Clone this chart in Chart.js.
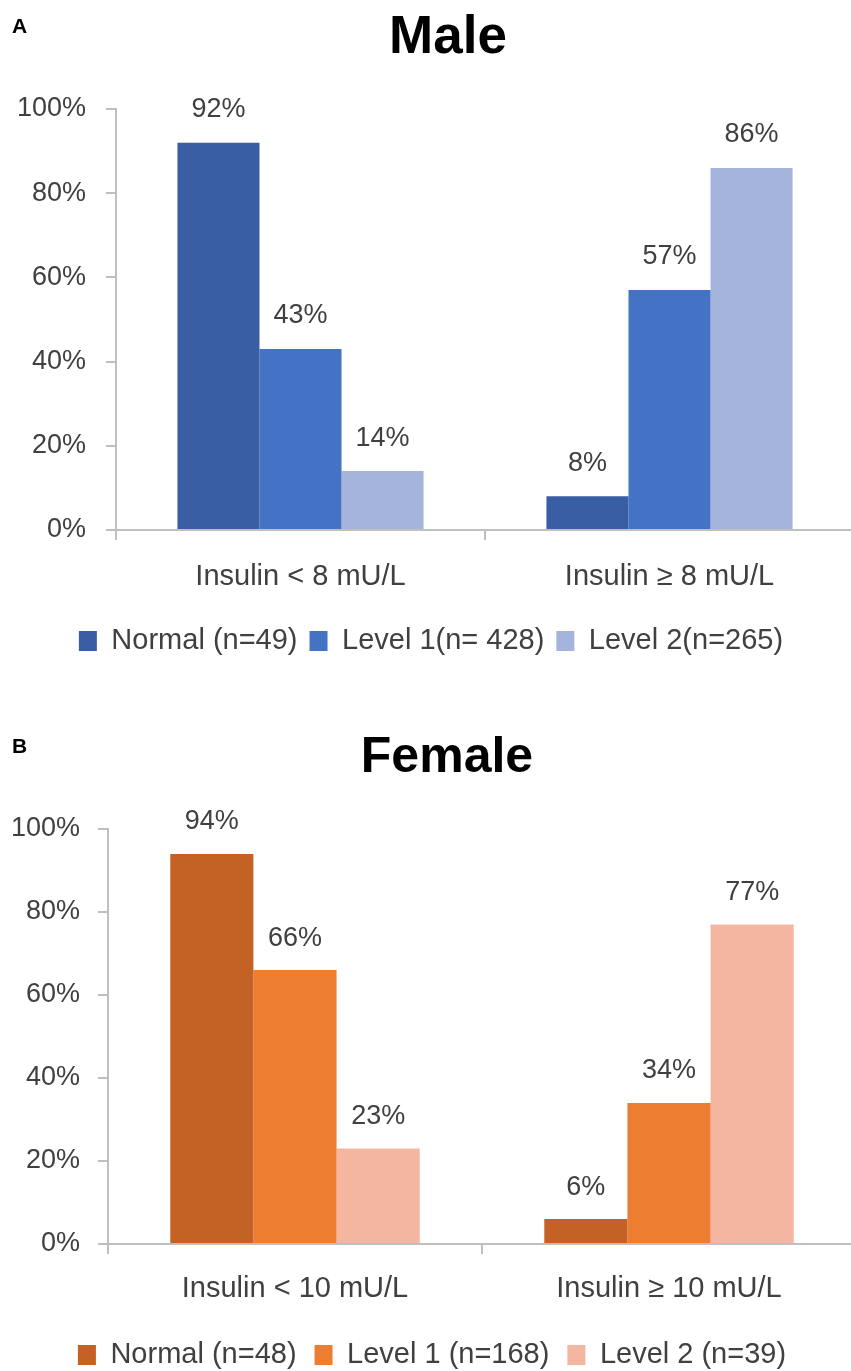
<!DOCTYPE html>
<html>
<head>
<meta charset="utf-8">
<script src="https://cdn.jsdelivr.net/npm/chart.js@4.4.1/dist/chart.umd.min.js"></script>
<style>
html,body{margin:0;padding:0;background:#fff;overflow:hidden;width:851px;height:1371px;position:relative;}
.panel{position:absolute;left:0;}
.panel canvas{display:block;}
.tag{position:absolute;font:bold 21px "Liberation Sans",Arial,sans-serif;color:#000;line-height:1;}
.title{position:absolute;font-family:"Liberation Sans",Arial,sans-serif;font-weight:bold;color:#000;line-height:1;text-align:center;white-space:nowrap;}
</style>
</head>
<body>
<div class="panel" style="top:0px"><canvas id="male" width="854" height="685"></canvas></div>
<div class="panel" style="top:685px"><canvas id="female" width="856" height="730"></canvas></div>
<div class="tag" style="left:12px;top:15px">A</div>
<div class="title" id="maleTitle" style="left:248px;width:400px;top:8px;font-size:53px;"></div>
<div class="tag" style="left:12px;top:735px">B</div>
<div class="title" id="femaleTitle" style="left:247px;width:400px;top:730px;font-size:50px;"></div>
<script>
// ---- data ----
const maleTitle = 'Male';
const maleCategories = ['Insulin < 8 mU/L', 'Insulin \u2265 8 mU/L'];
const maleSeriesNames = ['Normal (n=49)', 'Level 1(n= 428)', 'Level 2(n=265)'];
const maleNormal = [92, 8];
const maleLevel1 = [43, 57];
const maleLevel2 = [14, 86];

const femaleTitle = 'Female';
const femaleCategories = ['Insulin < 10 mU/L', 'Insulin \u2265 10 mU/L'];
const femaleSeriesNames = ['Normal (n=48)', 'Level 1 (n=168)', 'Level 2 (n=39)'];
const femaleNormal = [94, 6];
const femaleLevel1 = [66, 34];
const femaleLevel2 = [23, 77];

const yTickStep = 20;
const yMax = 100;

// ---- styling ----
const FONT = '"Liberation Sans", Arial, sans-serif';
Chart.defaults.font.family = FONT;
const TEXT = '#404040';
const AXIS = '#bfbfbf';
const maleColors = ['#3A5EA3', '#4472C4', '#A5B4DA'];
const femaleColors = ['#C46226', '#ED7D31', '#F4B6A0'];

document.getElementById('maleTitle').textContent = maleTitle;
document.getElementById('femaleTitle').textContent = femaleTitle;

const valueLabels = {
  id: 'valueLabels',
  afterDatasetsDraw(chart, args, opts) {
    const ctx = chart.ctx;
    ctx.save();
    ctx.font = opts.size + 'px ' + FONT;
    ctx.fillStyle = opts.color;
    ctx.textAlign = 'center';
    ctx.textBaseline = 'middle';
    chart.data.datasets.forEach((ds, i) => {
      const meta = chart.getDatasetMeta(i);
      meta.data.forEach((bar, j) => {
        ctx.fillText(ds.data[j] + '%', bar.x, bar.y - opts.offset);
      });
    });
    ctx.restore();
  }
};

function build(id, cfg) {
  const datasets = cfg.series.map((vals, i) => ({
    label: cfg.names[i],
    data: vals,
    backgroundColor: cfg.colors[i],
    borderWidth: 0,
    categoryPercentage: 0.667,
    barPercentage: 1.0
  }));
  return new Chart(document.getElementById(id), {
    type: 'bar',
    data: { labels: cfg.categories, datasets },
    plugins: [valueLabels],
    options: {
      responsive: false,
      animation: false,
      events: [],
      layout: { padding: { left: cfg.padLeft, right: 0, top: cfg.padTop, bottom: cfg.padBottom } },
      plugins: {
        title: { display: false },
        legend: {
          position: 'bottom',
          labels: {
            boxWidth: 18, boxHeight: 20, color: TEXT, padding: cfg.legendPad,
            font: { family: FONT, size: 29 }
          }
        },
        tooltip: { enabled: false },
        valueLabels: { offset: cfg.labelOffset, size: 27, color: TEXT }
      },
      scales: {
        x: {
          grid: { display: true, drawOnChartArea: false, drawTicks: true, tickLength: 10, color: AXIS, lineWidth: 2 },
          border: { color: AXIS, width: 2 },
          ticks: { color: TEXT, font: { family: FONT, size: 29 }, padding: cfg.xPad, maxRotation: 0 },
          afterFit(s) { s.height = cfg.xHeight; }
        },
        y: {
          min: 0, max: yMax,
          grid: { display: true, drawOnChartArea: false, drawTicks: true, tickLength: 10, color: AXIS, lineWidth: 2 },
          border: { color: AXIS, width: 2 },
          ticks: { stepSize: yTickStep, color: TEXT, font: { family: FONT, size: 27 }, padding: cfg.yPad,
                   callback: v => v + '%' },
          afterFit(s) { s.width = cfg.yWidth; }
        }
      }
    }
  });
}

build('male', {
  categories: maleCategories, names: maleSeriesNames,
  series: [maleNormal, maleLevel1, maleLevel2], colors: maleColors,
  padLeft: 8, padTop: 109, padBottom: 19.5, xHeight: 84.5, xPad: 19.6, yPad: 20, yWidth: 108,
  legendPad: 12, labelOffset: 33
});
build('female', {
  categories: femaleCategories, names: femaleSeriesNames,
  series: [femaleNormal, femaleLevel1, femaleLevel2], colors: femaleColors,
  padLeft: 8, padTop: 144, padBottom: 35.5, xHeight: 78.5, xPad: 17.6, yPad: 18, yWidth: 100,
  legendPad: 18, labelOffset: 32
});
</script>
</body>
</html>
